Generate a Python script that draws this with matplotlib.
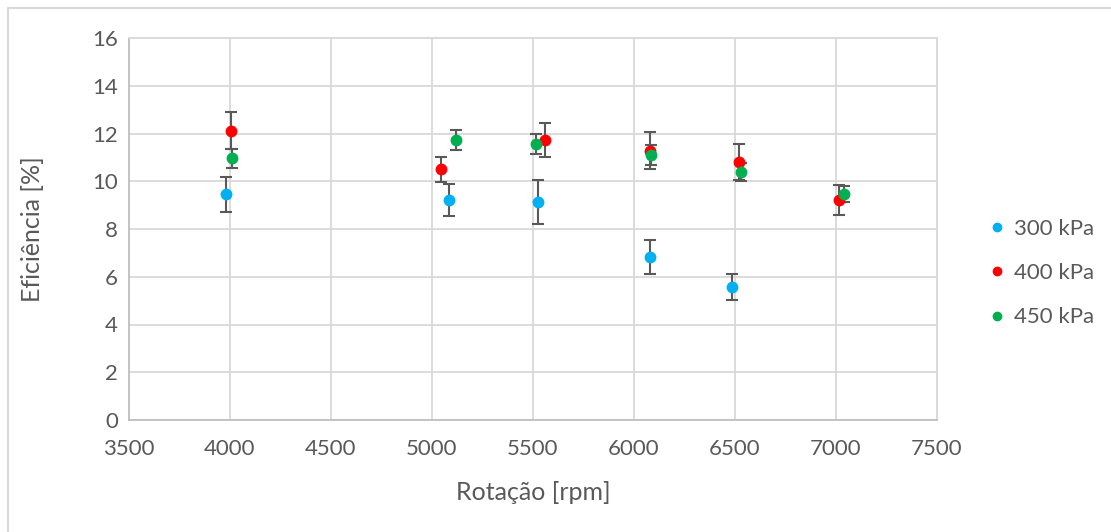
import matplotlib
matplotlib.use("Agg")
import matplotlib.pyplot as plt
from matplotlib.patches import Rectangle

plt.rcParams['font.family'] = ['Lato', 'DejaVu Sans']

# Data
rpm_300 = [3980, 5082, 5525, 6080, 6485]
ef_300 = [9.45, 9.22, 9.12, 6.82, 5.58]
err_300 = [0.72, 0.66, 0.92, 0.70, 0.55]

rpm_400 = [4007, 5045, 5560, 6078, 6518, 7015]
ef_400 = [12.12, 10.50, 11.73, 11.28, 10.80, 9.22]
err_400 = [0.76, 0.53, 0.73, 0.77, 0.75, 0.62]

rpm_450 = [4012, 5120, 5515, 6083, 6530, 7040]
ef_450 = [10.96, 11.73, 11.56, 11.11, 10.37, 9.48]
err_450 = [0.39, 0.43, 0.41, 0.41, 0.38, 0.33]

series = [
    ("300 kPa", rpm_300, ef_300, err_300, "#00B0F0"),
    ("400 kPa", rpm_400, ef_400, err_400, "#FF0000"),
    ("450 kPa", rpm_450, ef_450, err_450, "#00B050"),
]

text_col = "#595959"
grid_col = "#D9D9D9"

fig = plt.figure(figsize=(11.11, 5.32), dpi=100)
ax = fig.add_axes([129 / 1111, 1 - 420 / 532, 808 / 1111, 382 / 532])

# outer chart border
fig.patches.append(Rectangle((8 / 1111, -0.05), 1.2, 1 - 8 / 532 + 0.05,
                             transform=fig.transFigure, fill=False,
                             edgecolor=grid_col, linewidth=1.5))

handles = []
for name, x, y, e, col in series:
    ax.errorbar(x, y, yerr=e, fmt='none', ecolor=text_col, elinewidth=1.5,
                capsize=4.5, capthick=1.5, zorder=3)
    h, = ax.plot(x, y, 'o', color=col, markersize=7.5, label=name, zorder=4)
    handles.append(h)

ax.set_xlim(3500, 7500)
ax.set_ylim(0, 16)
ax.set_xticks(range(3500, 7501, 500))
ax.set_yticks(range(0, 17, 2))
ax.grid(True, color=grid_col, linewidth=1.3)
ax.set_axisbelow(True)
for s in ax.spines.values():
    s.set_color(grid_col)
    s.set_linewidth(1.3)
ax.spines['left'].set_color("#BFBFBF")
ax.spines['bottom'].set_color("#BFBFBF")
ax.tick_params(length=0, labelsize=16, labelcolor=text_col)
ax.tick_params(axis='x', pad=14)
ax.tick_params(axis='y', pad=8)

ax.set_xlabel("Rotação [rpm]", fontsize=18, color=text_col, va='center')
ax.set_ylabel("Eficiência [%]", fontsize=18, color=text_col, va='center')
ax.xaxis.set_label_coords(0.5, (420 - 492) / 382)
ax.yaxis.set_label_coords((33 - 129) / 808, 0.5)

fig.legend(handles=handles, loc='center left',
           bbox_to_anchor=(966 / 1111, 1 - 273 / 532), frameon=False,
           fontsize=16, labelcolor=text_col, handletextpad=0.25,
           labelspacing=1.1, handlelength=1.0, markerscale=0.8)

fig.savefig("out.png", dpi=100)
